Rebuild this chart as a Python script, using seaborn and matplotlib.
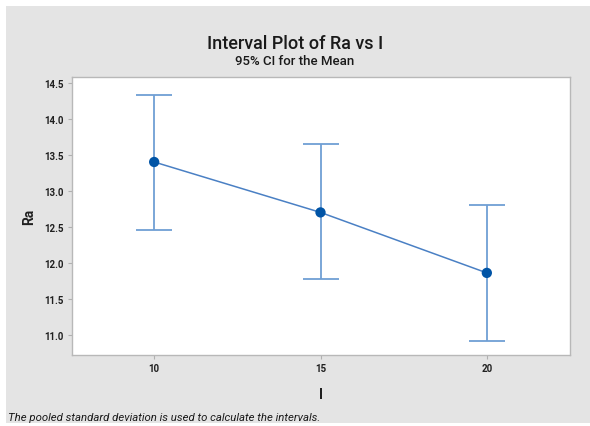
import matplotlib
matplotlib.use("Agg")
import matplotlib.pyplot as plt
from matplotlib.patches import Rectangle
import seaborn as sns
import pandas as pd

# Data
levels = [10, 15, 20]
means = [13.40, 12.70, 11.86]
ci_lower = [12.45, 11.77, 10.92]
ci_upper = [14.33, 13.65, 12.80]
yticks = [11.0, 11.5, 12.0, 12.5, 13.0, 13.5, 14.0, 14.5]

df = pd.DataFrame({"I": levels, "Ra": means})

sns.set_theme(style="white")
plt.rcParams["font.family"] = ["Roboto", "DejaVu Sans"]

fig = plt.figure(figsize=(5.9, 4.27), dpi=100, facecolor="white")
fig.patches.append(Rectangle((6/590, 3/427), 584/590, 417/427, transform=fig.transFigure,
                             facecolor="#e4e4e4", edgecolor="none", zorder=-10))
ax = fig.add_axes([72/590, 71/427, 498/590, 278/427])
ax.set_facecolor("white")

yerr = [[m - l for m, l in zip(means, ci_lower)], [u - m for m, u in zip(means, ci_upper)]]
ax.errorbar(levels, means, yerr=yerr, fmt="none", ecolor="#6f9fd4", elinewidth=1.3,
            capsize=13, capthick=1.3, zorder=2)
sns.lineplot(data=df, x="I", y="Ra", ax=ax, color="#4a80c4", linewidth=1.1, zorder=3)
sns.scatterplot(data=df, x="I", y="Ra", ax=ax, color="#0054a6", s=55, edgecolor="none", zorder=4)

ax.set_xlim(7.53, 22.5)
ax.set_ylim(10.72, 14.58)
ax.set_xticks(levels)
ax.set_xticklabels([str(v) for v in levels])
ax.set_yticks(yticks)
ax.set_yticklabels([f"{v:.1f}" for v in yticks])
ax.tick_params(axis="both", which="major", length=3, width=0.8, color="#b0b0b0",
               labelsize=7, pad=3, direction="out", bottom=True, left=True)
for lab in ax.get_xticklabels() + ax.get_yticklabels():
    lab.set_fontweight("bold")
    lab.set_color("#202020")
for s in ax.spines.values():
    s.set_color("#b8b8b8")
    s.set_linewidth(1.0)

ax.set_xlabel("I", fontsize=10, fontweight="bold", color="#202020", labelpad=10)
ax.set_ylabel("Ra", fontsize=10, fontweight="bold", color="#202020", labelpad=6)

fig.text(0.5, 1 - 44/427, "Interval Plot of Ra vs I", ha="center", va="center",
         fontsize=13, fontweight="medium", color="#1a1a1a", fontstretch="condensed")
fig.text(0.5, 1 - 62/427, "95% CI for the Mean", ha="center", va="center",
         fontsize=9.5, fontweight="medium", color="#1a1a1a")
fig.text(8/590, 1 - 418/427, "The pooled standard deviation is used to calculate the intervals.",
         ha="left", va="center", fontsize=8.2, style="italic", color="#1a1a1a")

fig.savefig("out.png", dpi=100, facecolor="white")
